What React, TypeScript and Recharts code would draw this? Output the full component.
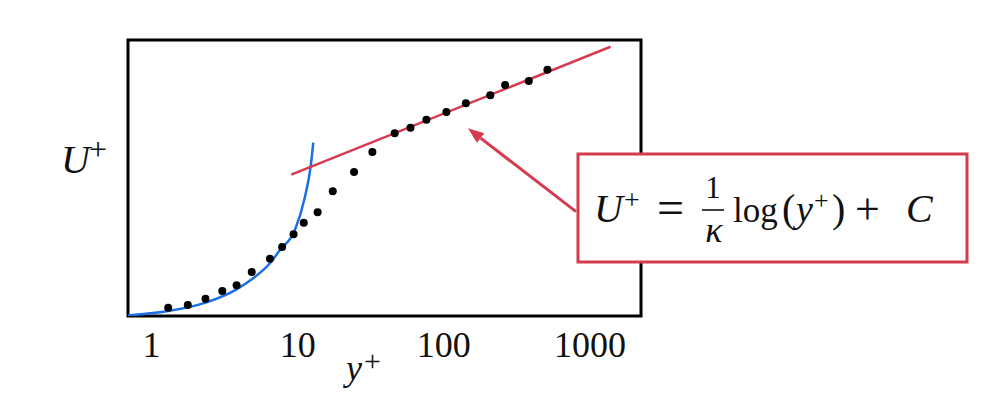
import React from "react"
import {
  ComposedChart,
  Line,
  Scatter,
  XAxis,
  YAxis,
  ReferenceArea,
  ReferenceLine,
} from "recharts"

// x axis ticks (y+, log scale)
const xTicks = [1, 10, 100, 1000]
const xDomain = [0.69, 2237]
const yDomain = [0, 30]

// measured profile (black dots)
const dotYPlus = [1.3, 1.77, 2.34, 3.05, 3.82, 4.85, 6.46, 7.83, 9.37, 11.01, 13.69, 17.39, 24.32, 32.45, 46.13, 59.18, 76.03, 104.2, 141.6, 208.1, 262.8, 381.8, 511.9]
const dotUPlus = [0.9, 1.2, 1.88, 2.72, 3.34, 4.78, 6.23, 7.5, 8.88, 10.14, 11.27, 13.55, 15.65, 17.83, 19.86, 20.47, 21.34, 22.17, 23.12, 23.99, 25.11, 25.54, 26.77]

// viscous sublayer (blue curve)
const wallYPlus = [0.69, 0.975, 1.3, 2.34, 3.82, 4.85, 6.46, 7.56, 9.58, 11.22, 12.27, 12.79]
const wallUPlus = [0.05, 0.29, 0.54, 1.45, 2.9, 3.99, 5.73, 7.17, 9.35, 12.97, 16.23, 18.84]

// log law (red line)
const logYPlus = [9.04, 1384]
const logUPlus = [15.36, 29.27]

// arrow from the formula box to the log law
const arrowFrom = { x: 803.6, y: 11.34 }
const arrowTo = { x: 146.4, y: 20.4 }

const dots = dotYPlus.map((x, i) => ({ x, u: dotUPlus[i] }))
const wall = wallYPlus.map((x, i) => ({ x, u: wallUPlus[i] }))
const logLaw = logYPlus.map((x, i) => ({ x, u: logUPlus[i] }))

const RED = "#d63a4f"
const BLUE = "#1a6ee6"
const SERIF = "'Liberation Serif', 'DejaVu Serif', serif"

function Arrow(props: any) {
  const { x1, y1, x2, y2 } = props
  if (x1 == null) return null
  const ang = Math.atan2(y2 - y1, x2 - x1)
  const len = 16
  const half = 6
  const bx = x2 - len * Math.cos(ang)
  const by = y2 - len * Math.sin(ang)
  const px = -Math.sin(ang) * half
  const py = Math.cos(ang) * half
  return (
    <g>
      <line x1={x1} y1={y1} x2={bx} y2={by} stroke={RED} strokeWidth={3} />
      <polygon points={`${x2},${y2} ${bx + px},${by + py} ${bx - px},${by - py}`} fill={RED} />
    </g>
  )
}

const Dot = (props: any) => <circle cx={props.cx} cy={props.cy} r={4} fill="#000" />

export default function App() {
  return (
    <div style={{ position: "relative", width: 983, height: 394, background: "#fff" }}>
      <ComposedChart width={983} height={394} margin={{ top: 32, right: 350, left: 120, bottom: 46 }}>
        <XAxis
          dataKey="x"
          type="number"
          scale="log"
          domain={xDomain}
          ticks={xTicks}
          allowDataOverflow
          axisLine={false}
          tickLine={false}
          tickMargin={9}
          height={40}
          tick={{ fontFamily: SERIF, fontSize: 36, fill: "#111" }}
        />
        <YAxis type="number" domain={yDomain} hide allowDataOverflow />
        <Line data={wall} dataKey="u" type="monotone" stroke={BLUE} strokeWidth={2.5} dot={false} isAnimationActive={false} />
        <Line data={logLaw} dataKey="u" type="linear" stroke={RED} strokeWidth={2.5} dot={false} isAnimationActive={false} />
        <Scatter data={dots} dataKey="u" shape={Dot} isAnimationActive={false} />
        <ReferenceLine segment={[arrowFrom, arrowTo]} shape={Arrow} ifOverflow="visible" />
        <ReferenceArea x1={xDomain[0]} x2={xDomain[1]} y1={yDomain[0]} y2={yDomain[1]} fill="none" stroke="#000" strokeWidth={3} fillOpacity={0} ifOverflow="visible" />
      </ComposedChart>
      <svg width={983} height={394} style={{ position: "absolute", left: 0, top: 0, pointerEvents: "none" }}>
        <g fontFamily={SERIF} fill="#111">
          <text x={53} y={165} fontSize={40} fontStyle="italic">U</text>
          <text x={81} y={152} fontSize={32}>+</text>
          <text x={338} y={372} fontSize={36} fontStyle="italic">y</text>
          <text x={356} y={363} fontSize={30}>+</text>
        </g>
        <rect x={570} y={146} width={389} height={108} fill="#fff" stroke={RED} strokeWidth={3} />
        <g fontFamily={SERIF} fill="#111">
          <text x={586} y={214} fontSize={40} fontStyle="italic">U</text>
          <text x={616} y={201} fontSize={28}>+</text>
          <text x={649} y={216} fontSize={48}>=</text>
          <text x={705} y={190} fontSize={31} textAnchor="middle">1</text>
          <line x1={694} y1={202} x2={716} y2={202} stroke="#111" strokeWidth={1.6} />
          <text x={706} y={234} fontSize={36} fontStyle="italic" textAnchor="middle">κ</text>
          <text x={725} y={214} fontSize={35}>log</text>
          <text x={774} y={214} fontSize={40}>(</text>
          <text x={788} y={214} fontSize={38} fontStyle="italic">y</text>
          <text x={806} y={201} fontSize={26}>+</text>
          <text x={824} y={214} fontSize={40}>)</text>
          <text x={847} y={216} fontSize={44}>+</text>
          <text x={898} y={214} fontSize={40} fontStyle="italic">C</text>
        </g>
      </svg>
    </div>
  )
}
